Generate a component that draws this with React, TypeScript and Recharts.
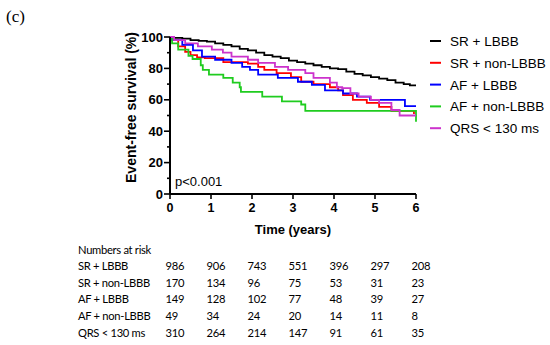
import { LineChart, Line, XAxis, YAxis } from "recharts";

// Kaplan-Meier step points (time in years, survival %)
const srLbbbT = [0, 0.1, 0.3, 0.5, 0.7, 0.9, 1.1, 1.3, 1.5, 1.7, 1.9, 2.1, 2.3, 2.5, 2.7, 2.9, 3.1, 3.3, 3.5, 3.7, 3.9, 4.1, 4.3, 4.5, 4.7, 4.9, 5.1, 5.3, 5.5, 5.7, 5.85, 6];
const srLbbbS = [100, 99.5, 99, 98, 97.5, 97, 96, 95, 94, 92.5, 91.5, 90, 88.5, 87.5, 86.5, 85, 84, 83, 82, 81, 80, 79.5, 78, 76.5, 75.5, 74.5, 73.5, 72.5, 71, 70, 69.2, 69.2];

const srNonT = [0, 0.05, 0.2, 0.37, 0.5, 0.66, 0.85, 1.3, 1.9, 2.15, 2.3, 2.6, 2.95, 3.2, 3.5, 3.9, 4.1, 4.22, 4.46, 4.8, 5.1, 5.4, 5.95];
const srNonS = [100, 98, 94, 90.5, 88.5, 87, 86.5, 84, 83, 81, 79, 77, 74.5, 71.5, 70, 68, 66, 63, 60, 58, 55.5, 53, 51];

const afLbbbT = [0, 0.05, 0.3, 0.56, 0.78, 1.1, 1.5, 1.76, 1.95, 2.15, 2.63, 3.12, 3.46, 3.78, 4.22, 4.56, 4.88, 5.73, 6];
const afLbbbS = [100, 98, 95, 91.5, 87.5, 85.5, 83.5, 81, 79, 76, 74, 71.5, 69.5, 66, 64, 62, 60, 56, 56];

const afNonT = [0, 0.05, 0.2, 0.45, 0.55, 0.75, 0.8, 0.95, 1.3, 1.53, 1.7, 1.73, 2.25, 2.73, 3.2, 3.3, 6];
const afNonS = [100, 96, 92, 88, 86, 82, 79, 76, 74, 71, 68, 65, 62, 59, 57, 53, 46];

const qrsT = [0, 0.1, 0.37, 0.68, 1.02, 1.29, 1.5, 1.9, 2.15, 2.56, 2.88, 3.3, 3.5, 3.9, 4.07, 4.2, 4.4, 4.6, 4.9, 5.1, 5.4, 5.6, 6];
const qrsS = [100, 98, 96, 94, 92, 90, 87.5, 85.5, 83.5, 81, 79, 77, 74, 71, 68, 67.5, 64, 62, 60, 58, 53.5, 50, 50];

const groups = ["SR + LBBB", "SR + non-LBBB", "AF + LBBB", "AF + non-LBBB", "QRS < 130 ms"];
const colors = ["#000000", "#ff0000", "#0000ff", "#1fcc1f", "#cc33cc"];

const xTicks = [0, 1, 2, 3, 4, 5, 6];
const yTicks = [0, 10, 20, 30, 40, 50, 60, 70, 80, 90, 100];

// numbers at risk
const riskTimes = [0, 1, 2, 3, 4, 5, 6];
const riskSrLbbb = [986, 906, 743, 551, 396, 297, 208];
const riskSrNon = [170, 134, 96, 75, 53, 31, 23];
const riskAfLbbb = [149, 128, 102, 77, 48, 39, 27];
const riskAfNon = [49, 34, 24, 20, 14, 11, 8];
const riskQrs = [310, 264, 214, 147, 91, 61, 35];

const toPts = (t: number[], s: number[]) => t.map((x, i) => ({ t: x, s: s[i] }));
const series = [
  toPts(srLbbbT, srLbbbS),
  toPts(srNonT, srNonS),
  toPts(afLbbbT, afLbbbS),
  toPts(afNonT, afNonS),
  toPts(qrsT, qrsS),
];
const riskRows = [riskSrLbbb, riskSrNon, riskAfLbbb, riskAfNon, riskQrs];

const W = 550;
const H = 345;
const PLOT_L = 170;
const PLOT_R = 416;
const PLOT_T = 37;
const PLOT_B = 194;
const X_AXIS_H = 36;
const Y_AXIS_W = 50;
const AX = "Liberation Sans, Arial, sans-serif";

const YTick = (props: any) => {
  const { x, y, payload } = props;
  const axisX = x + 7;
  const major = payload.value % 20 === 0;
  return (
    <g>
      <line x1={axisX - (major ? 6 : 3)} x2={axisX} y1={y} y2={y} stroke="#000" strokeWidth={1.6} />
      {major && (
        <text x={x} y={y} dy={4.5} textAnchor="end" fontFamily={AX} fontWeight="bold" fontSize={13} fill="#000">
          {payload.value}
        </text>
      )}
    </g>
  );
};

export default function App() {
  const colX = (t: number) => PLOT_L + (t / 6) * (PLOT_R - PLOT_L) - 4.5;
  const rowY = (i: number) => 249 + i * 16.6;
  const legY = (i: number) => 41 + i * 21.8;
  return (
    <div style={{ position: "absolute", left: 0, top: 0, width: W, height: H, background: "#fff" }}>
      <LineChart
        width={W}
        height={H}
        margin={{ top: PLOT_T, right: W - PLOT_R, bottom: H - PLOT_B - X_AXIS_H, left: PLOT_L - Y_AXIS_W }}
      >
        <XAxis
          type="number"
          dataKey="t"
          domain={[0, 6]}
          ticks={xTicks}
          interval={0}
          height={X_AXIS_H}
          axisLine={{ stroke: "#000", strokeWidth: 2 }}
          tickLine={{ stroke: "#000", strokeWidth: 1.6 }}
          tickSize={5}
          tickMargin={4}
          tick={{ fill: "#000", fontFamily: AX, fontWeight: "bold", fontSize: 12.5 }}
        />
        <YAxis
          type="number"
          domain={[0, 100]}
          ticks={yTicks}
          interval={0}
          width={Y_AXIS_W}
          axisLine={{ stroke: "#000", strokeWidth: 2 }}
          tickLine={false}
          tickSize={5}
          tickMargin={2}
          tick={<YTick />}
        />
        {series.map((d, i) => (
          <Line
            key={groups[i]}
            data={d}
            dataKey="s"
            name={groups[i]}
            type="stepAfter"
            stroke={colors[i]}
            strokeWidth={1.8}
            dot={false}
            isAnimationActive={false}
          />
        ))}
      </LineChart>
      <svg width={W} height={H} style={{ position: "absolute", left: 0, top: 0, pointerEvents: "none" }}>
        <text x={6} y={22} fontFamily="Liberation Serif, serif" fontSize={17} fill="#000">(c)</text>
        <text
          x={0}
          y={0}
          transform={`translate(136, ${(PLOT_T + PLOT_B) / 2 - 8}) rotate(-90)`}
          textAnchor="middle"
          fontFamily={AX}
          fontWeight="bold"
          fontSize={14}
          fill="#000"
        >
          Event-free survival (%)
        </text>
        <text x={(PLOT_L + PLOT_R) / 2} y={234} textAnchor="middle" fontFamily={AX} fontWeight="bold" fontSize={13} fill="#000">
          Time (years)
        </text>
        <text x={175} y={186} fontFamily={AX} fontSize={13} fill="#000">p&lt;0.001</text>
        <g fontFamily={AX} fontSize={13.5} fill="#000">
          {groups.map((g, i) => (
            <g key={g}>
              <line x1={430} x2={441} y1={legY(i)} y2={legY(i)} stroke={colors[i]} strokeWidth={2} />
              <text x={450} y={legY(i) + 5}>{g}</text>
            </g>
          ))}
        </g>
        <g fontFamily="Lato, Calibri, sans-serif" fontSize={11.2} letterSpacing={-0.3} fill="#000">
          <text x={78} y={rowY(0) + 4.5}>Numbers at risk</text>
          {groups.map((g, i) => (
            <g key={g}>
              <text x={78} y={rowY(i + 1) + 4.5}>{g}</text>
              {riskRows[i].map((n, j) => (
                <text key={j} x={colX(riskTimes[j])} y={rowY(i + 1) + 4.5}>{n}</text>
              ))}
            </g>
          ))}
        </g>
      </svg>
    </div>
  );
}
